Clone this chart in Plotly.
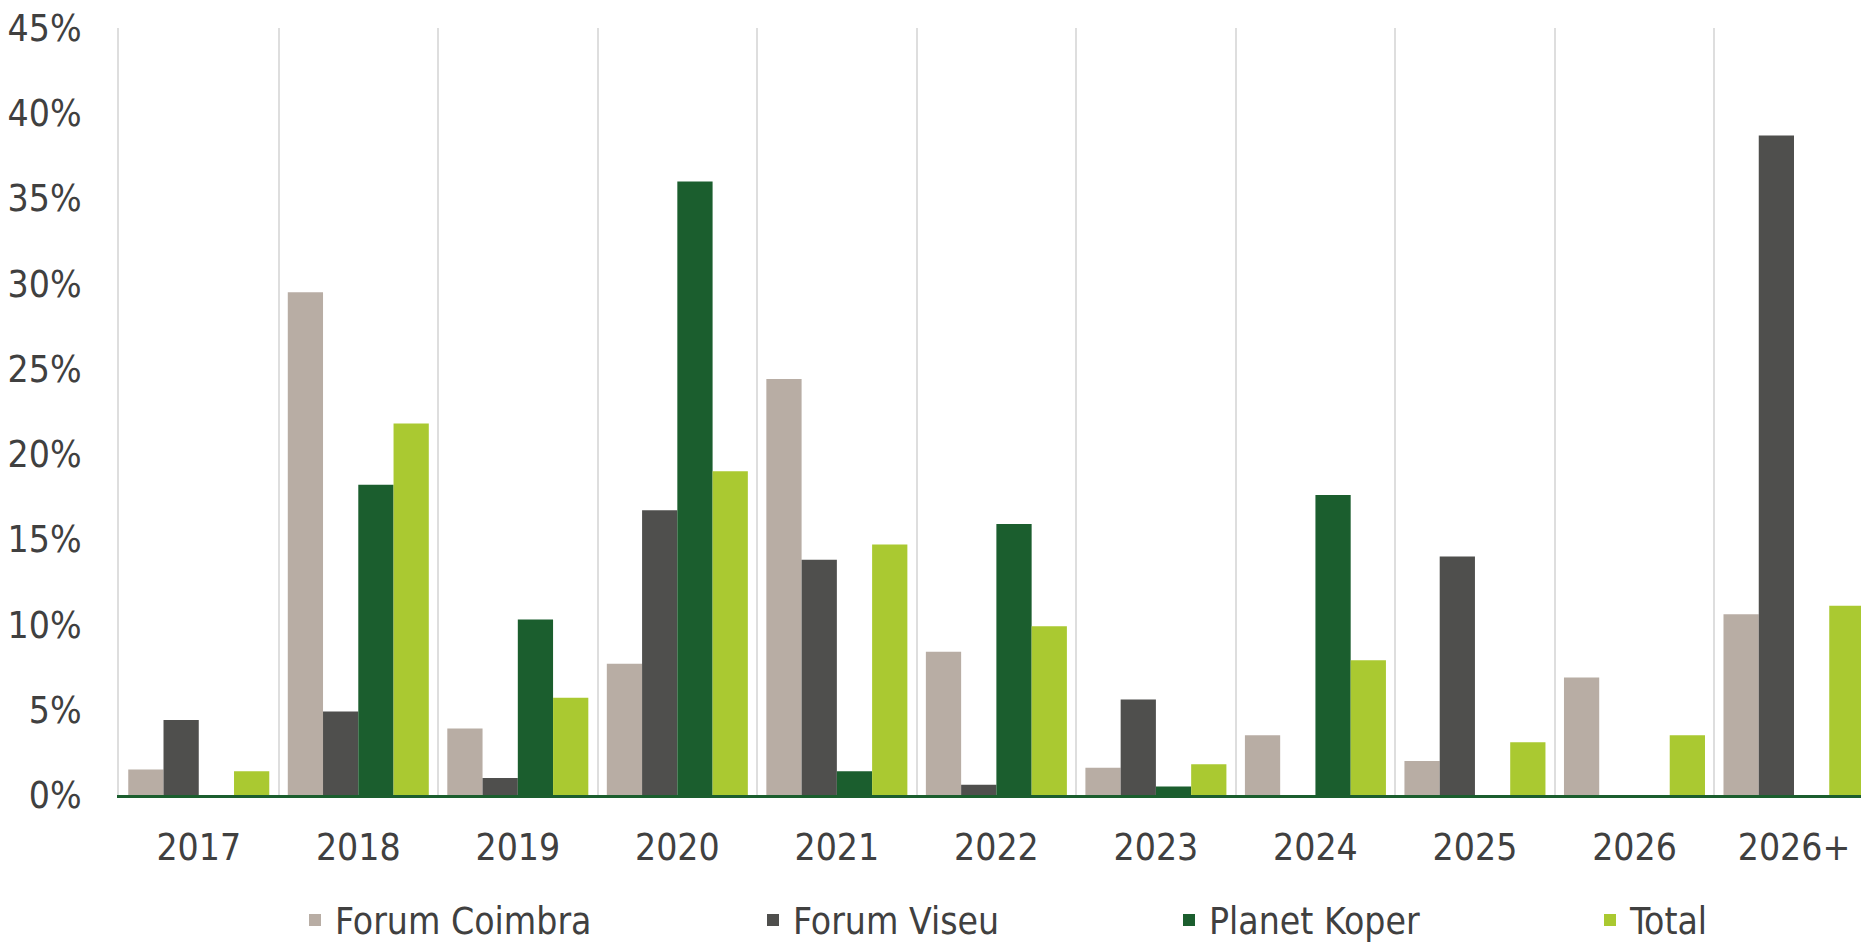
import plotly.graph_objects as go

categories = ["2017", "2018", "2019", "2020", "2021", "2022", "2023", "2024", "2025", "2026", "2026+"]
forum_coimbra = [1.5, 29.5, 3.9, 7.7, 24.4, 8.4, 1.6, 3.5, 2.0, 6.9, 10.6]
forum_viseu = [4.4, 4.9, 1.0, 16.7, 13.8, 0.6, 5.6, 0.0, 14.0, 0.0, 38.7]
planet_koper = [0.0, 18.2, 10.3, 36.0, 1.4, 15.9, 0.5, 17.6, 0.0, 0.0, 0.0]
total = [1.4, 21.8, 5.7, 19.0, 14.7, 9.9, 1.8, 7.9, 3.1, 3.5, 11.1]
y_ticks = [0, 5, 10, 15, 20, 25, 30, 35, 40, 45]

FONT = "Liberation Sans Narrow, Arial Narrow, DejaVu Sans Condensed, sans-serif"
TXT = "#404040"
FS = 37

series = [
    ("Forum Coimbra", forum_coimbra, "#B8ADA4", "legend"),
    ("Forum Viseu", forum_viseu, "#4F4F4D", "legend2"),
    ("Planet Koper", planet_koper, "#1B5E2E", "legend3"),
    ("Total", total, "#AAC931", "legend4"),
]

fig = go.Figure()
for name, vals, color, leg in series:
    fig.add_trace(go.Bar(
        x=categories, y=[v / 100 for v in vals], name=name,
        marker=dict(color=color, line=dict(width=0)),
        legend=leg, showlegend=True,
    ))

legend_common = dict(
    orientation="h", yref="container", yanchor="middle", y=0.024,
    xref="container", xanchor="left",
    font=dict(family=FONT, size=FS, color=TXT), bgcolor="rgba(0,0,0,0)",
    visible=True,
)

fig.update_layout(
    width=1861, height=943,
    margin=dict(l=119, r=0, t=28, b=148, autoexpand=False),
    paper_bgcolor="white", plot_bgcolor="white",
    barmode="group", bargap=0.116, bargroupgap=0,
    showlegend=True,
    font=dict(family=FONT, size=FS, color=TXT),
    legend=dict(x=295 / 1861, **legend_common),
    legend2=dict(x=753 / 1861, **legend_common),
    legend3=dict(x=1169 / 1861, **legend_common),
    legend4=dict(x=1590 / 1861, **legend_common),
    xaxis=dict(
        type="category", range=[-0.5, 10.42],
        tickson="boundaries", ticks="", showgrid=True,
        gridcolor="#DEDEDE", gridwidth=2,
        showline=True, linecolor="#1B5E2E", linewidth=3,
        tickfont=dict(family=FONT, size=FS, color=TXT),
        ticklabelstandoff=18,
    ),
    yaxis=dict(
        range=[0, 0.45], tickvals=[t / 100 for t in y_ticks], tickformat=".0%",
        showgrid=False, zeroline=False, ticks="",
        showline=True, linecolor="#DEDEDE", linewidth=2,
        tickfont=dict(family=FONT, size=FS, color=TXT),
        ticklabelstandoff=28,
    ),
)

fig.write_html("out.html")
